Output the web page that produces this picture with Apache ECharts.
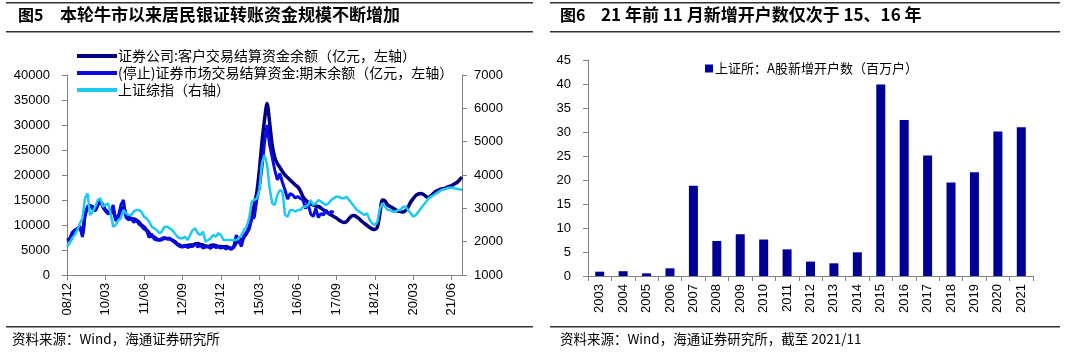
<!DOCTYPE html>
<html><head><meta charset="utf-8">
<script src="https://cdn.jsdelivr.net/npm/echarts@6/dist/echarts.min.js"></script>
<style>html,body{margin:0;padding:0;background:#fff}#c{width:1080px;height:355px}</style>
</head><body><div id="c"></div>
<script>
// ---- Left chart data (monthly, 2008/12 - 2021/10) ----
const monthCategories = [];
for (let y = 2008, m = 12; y < 2021 || (y === 2021 && m <= 10); ) {
  monthCategories.push(String(y).slice(2) + '/' + (m < 10 ? '0' + m : m));
  m++; if (m > 12) { m = 1; y++; }
}
const clientFunds = [7000,7200,8200,8800,9200,9600,8200,12000,13400,13800,13600,13000,14000,14600,14000,13000,12600,12300,12800,11300,11800,13000,13500,12000,11500,11300,11200,11000,10600,10000,9600,9000,8400,7800,7600,7200,7000,7100,7300,7300,7200,7000,6700,6200,6000,5700,5800,5900,6000,6000,6200,6300,6100,6000,5800,5700,5900,6000,5900,5700,5700,5600,5700,5500,5300,5600,6500,7200,7000,7600,8300,9500,11500,14000,16500,21000,26500,31000,34300,30500,26000,23500,22300,21500,20700,20000,19500,19000,18500,18000,17600,16800,15700,15000,14500,14200,14000,13800,13700,13400,13000,12700,12300,12000,11700,11400,11000,10700,10500,10700,11300,11800,11900,11600,11200,10700,10300,9900,9500,9200,9100,9600,12300,15000,14800,14000,13700,13400,13100,12800,12700,12600,12900,13600,14600,15300,15900,16200,16300,16100,15700,15500,15900,16400,16800,17000,17200,17300,17500,17700,17900,18200,18500,19000,19600];
const settlementFunds = [6800,7000,8500,9000,9300,9700,7600,11800,13700,14000,13200,12800,14200,14800,13500,12800,12200,12500,14000,10800,11500,14000,15000,11500,11000,11400,10500,11000,10200,9800,9200,8900,7500,8200,7200,7000,7000,7300,7500,7200,7400,6900,6500,6000,5700,5600,6000,5500,5700,5700,6300,5600,5900,5400,5600,5700,5300,5800,5500,5600,5400,5600,5200,5500,5100,5700,8000,6800,5700,7800,8600,9200,11300,11500,15000,17500,21500,26500,30000,26000,23500,21000,19000,20300,18500,17000,15200,16300,16000,15400,15700,15300,15000,13300,14300,12200,11700,13300,11500,12300,12000,13000,12200,12700,12500];
const shIndex = [1850,1950,2100,2200,2350,2550,2700,3300,3450,2800,2900,3050,3250,3300,3050,3100,3150,2850,2450,2500,2650,2700,2950,2850,2800,2800,2900,2950,2950,2900,2750,2700,2600,2450,2400,2350,2250,2300,2450,2450,2400,2350,2250,2150,2100,2100,2150,2050,2200,2350,2400,2250,2200,2300,2000,2050,2100,2200,2150,2250,2200,2050,2050,2050,2050,2050,2050,2100,2200,2350,2450,2700,3200,3250,3300,3550,4350,4600,4300,3600,3150,3100,3400,3550,3500,2800,2750,2950,2950,2900,2950,2950,3050,3050,3100,3250,3100,3150,3250,3200,3150,3100,3150,3250,3300,3350,3350,3300,3300,3350,3250,3150,3050,2950,2900,2850,2800,2850,2650,2550,2500,2600,3000,3150,3050,2950,2950,2900,2900,2950,2950,3050,3050,2950,2850,2750,2800,2900,3000,3100,3200,3300,3350,3400,3450,3500,3550,3570,3600,3620,3620,3600,3590,3570,3560];
const leftSeriesNames = ['证券公司:客户交易结算资金余额（亿元，左轴）','(停止)证券市场交易结算资金:期末余额（亿元，左轴）','上证综指（右轴）'];

// ---- Right chart data ----
const years = ['2003','2004','2005','2006','2007','2008','2009','2010','2011','2012','2013','2014','2015','2016','2017','2018','2019','2020','2021'];
const newAccounts = [0.9,1.0,0.55,1.6,18.8,7.3,8.7,7.6,5.55,3.0,2.64,4.93,39.9,32.5,25.1,19.5,21.6,30.1,31.0];
const rightSeriesName = '上证所：A股新增开户数（百万户）';

const titleLeft = '本轮牛市以来居民银证转账资金规模不断增加';
const titleRight = '21 年前 11 月新增开户数仅次于 15、16 年';
const sourceLeft = '资料来源：Wind，海通证券研究所';
const sourceRight = '资料来源：Wind，海通证券研究所，截至 2021/11';

const CJK = '"Noto Sans CJK SC", sans-serif';
const NUM = '"Liberation Sans", Arial, sans-serif';
const axisLineStyle = {lineStyle:{color:'#7f7f7f', width:1}};
const plain = v => String(v);
const numLabel = {color:'#000', fontFamily: NUM, fontSize: 13};

const chart = echarts.init(document.getElementById('c'), null, {renderer:'canvas'});
chart.setOption({
  animation: false,
  backgroundColor: '#fff',
  grid: [
    {left: 67, right: 618, top: 75, bottom: 80},
    {left: 588, right: 47, top: 60, bottom: 79}
  ],
  legend: [
    {
      data: leftSeriesNames, orient: 'vertical', left: 72, top: 44, itemGap: 3,
      itemWidth: 40, itemHeight: 4, icon: 'rect',
      textStyle: {fontFamily: CJK, fontSize: 14, color: '#000', padding:[0,0,0,-4]}
    },
    {
      data: [rightSeriesName], left: 700, top: 57, itemWidth: 8, itemHeight: 8, icon: 'rect', itemGap: 0,
      textStyle: {fontFamily: CJK, fontSize: 13, color: '#000', padding:[0,0,0,-3]}
    }
  ],
  xAxis: [
    {
      type: 'category', gridIndex: 0, data: monthCategories, boundaryGap: false,
      axisLine: axisLineStyle,
      axisTick: {show: true, interval: 14, length: 5, lineStyle:{color:'#7f7f7f'}},
      axisLabel: Object.assign({interval: 14, rotate: 90, margin: 8}, numLabel)
    },
    {
      type: 'category', gridIndex: 1, data: years,
      axisLine: axisLineStyle,
      axisTick: {show: true, length: 5, lineStyle:{color:'#7f7f7f'}},
      axisLabel: Object.assign({interval: 0, rotate: 90, margin: 8}, numLabel)
    }
  ],
  yAxis: [
    {
      type: 'value', gridIndex: 0, min: 0, max: 40000, interval: 5000,
      axisLine: Object.assign({show: true}, axisLineStyle),
      axisTick: {show: true, length: 5, lineStyle:{color:'#7f7f7f'}},
      splitLine: {show: false}, axisLabel: Object.assign({margin: 17, formatter: plain}, numLabel)
    },
    {
      type: 'value', gridIndex: 0, position: 'right', min: 1000, max: 7000, interval: 1000,
      axisLine: Object.assign({show: true}, axisLineStyle),
      axisTick: {show: true, length: 5, lineStyle:{color:'#7f7f7f'}},
      splitLine: {show: false}, axisLabel: Object.assign({margin: 12, formatter: plain}, numLabel)
    },
    {
      type: 'value', gridIndex: 1, min: 0, max: 45, interval: 5,
      axisLine: Object.assign({show: true}, axisLineStyle),
      axisTick: {show: true, length: 5, lineStyle:{color:'#7f7f7f'}},
      splitLine: {show: false}, axisLabel: Object.assign({margin: 17, formatter: plain}, numLabel)
    }
  ],
  series: [
    {name: leftSeriesNames[0], type: 'line', xAxisIndex: 0, yAxisIndex: 0, data: clientFunds,
     showSymbol: false, smooth: 0.3, lineStyle: {color: '#000080', width: 3.5}, itemStyle: {color: '#000080'}, z: 2},
    {name: leftSeriesNames[1], type: 'line', xAxisIndex: 0, yAxisIndex: 0, data: settlementFunds,
     showSymbol: false, lineStyle: {color: '#0a0ae8', width: 3}, itemStyle: {color: '#0a0ae8'}, z: 3},
    {name: leftSeriesNames[2], type: 'line', xAxisIndex: 0, yAxisIndex: 1, data: shIndex,
     showSymbol: false, lineStyle: {color: '#1ec8f5', width: 2.5}, itemStyle: {color: '#1ec8f5'}, z: 4},
    {name: rightSeriesName, type: 'bar', xAxisIndex: 1, yAxisIndex: 2, data: newAccounts,
     barWidth: 9, itemStyle: {color: '#000096'}}
  ],
  graphic: [
    {type:'rect', shape:{x:6, y:2, width:527, height:1.5}, style:{fill:'#333'}},
    {type:'rect', shape:{x:6, y:31, width:527, height:1.5}, style:{fill:'#333'}},
    {type:'rect', shape:{x:6, y:326, width:527, height:1.5}, style:{fill:'#333'}},
    {type:'rect', shape:{x:550, y:2, width:510, height:1.5}, style:{fill:'#333'}},
    {type:'rect', shape:{x:550, y:31, width:510, height:1.5}, style:{fill:'#333'}},
    {type:'rect', shape:{x:550, y:326, width:510, height:1.5}, style:{fill:'#333'}},
    {type:'text', left: 18, top: 7, style:{text:'图5', font:'bold 16px ' + CJK, fill:'#000'}},
    {type:'text', left: 60, top: 6, style:{text:titleLeft, font:'bold 17px ' + CJK, fill:'#000'}},
    {type:'text', left: 560, top: 7, style:{text:'图6', font:'bold 16px ' + CJK, fill:'#000'}},
    {type:'text', left: 601, top: 6, style:{text:titleRight, font:'bold 17px ' + CJK, fill:'#000'}},
    {type:'text', left: 12, top: 332, style:{text:sourceLeft, font:'13.5px ' + CJK, fill:'#000'}},
    {type:'text', left: 560, top: 332, style:{text:sourceRight, font:'13.5px ' + CJK, fill:'#000'}}
  ]
});
</script></body></html>
